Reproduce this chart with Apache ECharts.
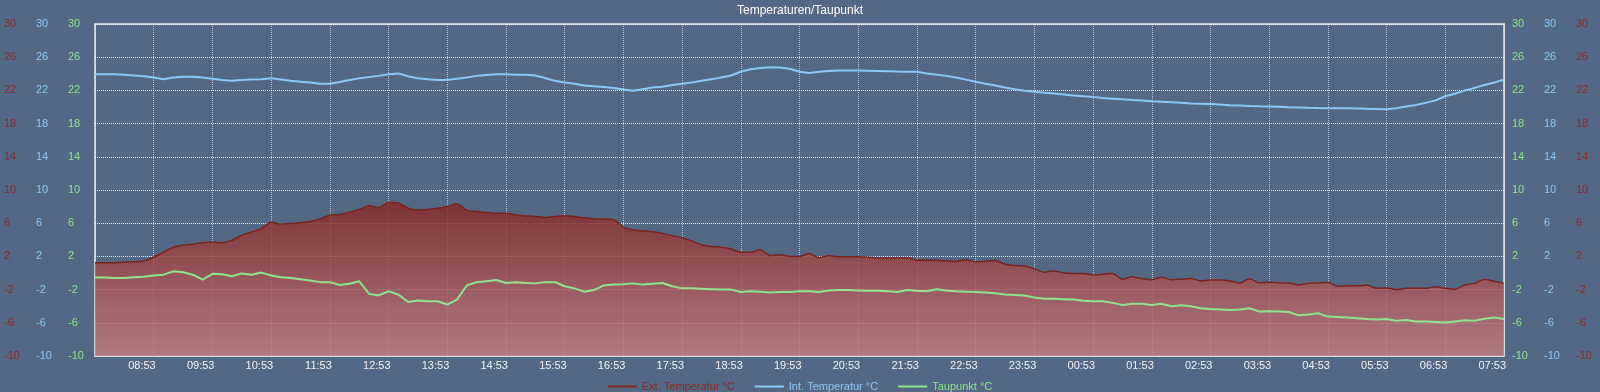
<!DOCTYPE html>
<html>
<head>
<meta charset="utf-8">
<script src="https://cdn.jsdelivr.net/npm/echarts@6/dist/echarts.min.js"></script>
<style>
  html, body { margin: 0; padding: 0; background: #536884; }
  #chart { width: 1600px; height: 392px; }
</style>
</head>
<body>
<div id="chart"></div>
<script>
// ---- data (10-minute samples starting at 07:53) ----
const startTime = '07:53';
const stepMinutes = 10;

const xTickLabels = ['08:53','09:53','10:53','11:53','12:53','13:53','14:53','15:53','16:53','17:53','18:53','19:53',
  '20:53','21:53','22:53','23:53','00:53','01:53','02:53','03:53','04:53','05:53','06:53','07:53'];

const yTicks = [-10, -6, -2, 2, 6, 10, 14, 18, 22, 26, 30];

const extTemp = [
  1.25, 1.25, 1.25, 1.3, 1.35, 1.45, 1.9, 2.5, 3.1, 3.35,
  3.45, 3.65, 3.7, 3.65, 3.95, 4.55, 4.95, 5.35, 6.1, 5.9,
  5.95, 6.05, 6.2, 6.5, 6.95, 7.05, 7.35, 7.65, 8.1, 7.85,
  8.5, 8.45, 7.8, 7.6, 7.65, 7.8, 8.0, 8.35, 7.55, 7.4,
  7.3, 7.2, 7.2, 7.0, 6.9, 6.8, 6.7, 6.8, 6.9, 6.8,
  6.65, 6.55, 6.5, 6.45, 5.5, 5.2, 5.05, 5.0, 4.75, 4.5,
  4.25, 3.85, 3.4, 3.2, 3.1, 2.9, 2.5, 2.5, 2.8, 2.1,
  2.2, 2.0, 2.0, 2.35, 1.85, 2.1, 1.95, 1.95, 1.95, 1.9,
  1.8, 1.8, 1.8, 1.85, 1.55, 1.55, 1.55, 1.45, 1.4, 1.6,
  1.35, 1.4, 1.5, 1.05, 0.9, 0.85, 0.5, 0.1, 0.25, 0.0,
  -0.05, -0.05, -0.25, -0.15, -0.05, -0.75, -0.45, -0.7, -0.8, -0.5,
  -0.8, -0.75, -0.65, -0.95, -0.85, -0.85, -0.95, -1.2, -0.7, -1.2,
  -1.1, -1.2, -1.2, -1.45, -1.25, -1.2, -1.15, -1.6, -1.55, -1.55,
  -1.45, -1.85, -1.8, -2.0, -1.85, -1.85, -1.85, -1.65, -1.85, -1.95,
  -1.45, -1.25, -0.75, -1.0, -1.25
];

const intTemp = [
  23.95, 23.95, 23.95, 23.9, 23.8, 23.7, 23.55, 23.35, 23.55, 23.65,
  23.65, 23.55, 23.4, 23.25, 23.15, 23.25, 23.3, 23.35, 23.45, 23.3,
  23.15, 23.05, 22.95, 22.8, 22.8, 23.0, 23.25, 23.45, 23.6, 23.75,
  23.95, 24.05, 23.7, 23.45, 23.35, 23.25, 23.25, 23.4, 23.55, 23.75,
  23.85, 23.95, 23.95, 23.9, 23.9, 23.8, 23.5, 23.15, 22.95, 22.8,
  22.6, 22.5, 22.4, 22.3, 22.1, 21.95, 22.15, 22.35, 22.45, 22.65,
  22.8, 22.95, 23.15, 23.35, 23.55, 23.8, 24.25, 24.55, 24.7, 24.8,
  24.75, 24.6, 24.25, 24.1, 24.25, 24.35, 24.4, 24.4, 24.4, 24.38,
  24.35, 24.32, 24.28, 24.25, 24.25, 24.05, 23.9, 23.75, 23.55, 23.3,
  23.05, 22.8, 22.6, 22.35, 22.15, 21.97, 21.85, 21.72, 21.62, 21.5,
  21.38, 21.3, 21.22, 21.08, 21.0, 20.92, 20.85, 20.78, 20.7, 20.63,
  20.57, 20.5, 20.43, 20.4, 20.35, 20.3, 20.22, 20.17, 20.12, 20.08,
  20.05, 20.02, 19.98, 19.95, 19.9, 19.87, 19.85, 19.85, 19.85, 19.82,
  19.78, 19.76, 19.72, 19.85, 20.05, 20.25, 20.5, 20.8, 21.3, 21.6,
  22.0, 22.3, 22.65, 22.95, 23.3
];

const dewPoint = [
  -0.55, -0.55, -0.6, -0.6, -0.5, -0.45, -0.3, -0.2, 0.2, 0.1,
  -0.2, -0.8, -0.1, -0.15, -0.4, -0.05, -0.2, 0.05, -0.3, -0.5,
  -0.6, -0.75, -0.9, -1.1, -1.1, -1.45, -1.3, -1.0, -2.5, -2.7,
  -2.2, -2.6, -3.5, -3.3, -3.4, -3.4, -3.8, -3.2, -1.5, -1.1,
  -1.0, -0.85, -1.2, -1.1, -1.2, -1.25, -1.1, -1.1, -1.6, -1.85,
  -2.25, -2.05, -1.5, -1.4, -1.35, -1.25, -1.4, -1.3, -1.2, -1.6,
  -1.85, -1.85, -1.9, -1.95, -2.0, -2.0, -2.3, -2.2, -2.25, -2.35,
  -2.3, -2.3, -2.2, -2.2, -2.3, -2.1, -2.05, -2.05, -2.1, -2.15,
  -2.15, -2.2, -2.3, -2.05, -2.15, -2.2, -1.95, -2.1, -2.2, -2.25,
  -2.3, -2.35, -2.45, -2.6, -2.65, -2.7, -2.95, -3.1, -3.1, -3.15,
  -3.2, -3.35, -3.4, -3.4, -3.6, -3.85, -3.7, -3.7, -3.85, -3.7,
  -4.0, -3.9, -4.0, -4.25, -4.35, -4.4, -4.45, -4.4, -4.25, -4.65,
  -4.6, -4.65, -4.7, -5.1, -5.0, -4.85, -5.25, -5.3, -5.35, -5.45,
  -5.55, -5.6, -5.55, -5.75, -5.65, -5.85, -5.85, -5.9, -5.95, -5.85,
  -5.7, -5.75, -5.5, -5.35, -5.55
];

const seriesNames = ['Ext. Temperatur °C', 'Int. Temperatur °C', 'Taupunkt °C'];

// ---- styling ----
const FONT = '"Liberation Sans", Arial, Helvetica, sans-serif';
const RED = '#8c2a23';
const BLUE = '#8cc8f5';
const GREEN = '#8fe58f';

function toPairs(arr) { return arr.map((v, k) => [k * stepMinutes, v]); }

function yAxis(pos, offset, color, showSplit) {
  return {
    type: 'value', min: -10, max: 30, position: pos, offset: offset,
    axisLine: { show: false },
    axisTick: { show: false, customValues: yTicks },
    axisLabel: { customValues: yTicks, color: color, fontSize: 11, fontFamily: FONT, align: 'left', margin: 0 },
    splitLine: { show: showSplit, lineStyle: { color: 'rgba(255,255,255,0.85)', type: 'dotted', width: 1 } }
  };
}

const chart = echarts.init(document.getElementById('chart'), null, { renderer: 'canvas' });
chart.setOption({
  backgroundColor: '#536884',
  animation: false,
  title: {
    text: 'Temperaturen/Taupunkt', left: 'center', top: 0,
    textStyle: { color: '#ffffff', fontSize: 12, fontWeight: 'normal', fontFamily: FONT }
  },
  legend: {
    top: 376, left: 'center', icon: 'rect', itemWidth: 29, itemHeight: 2, itemGap: 20,
    textStyle: { fontSize: 11, fontFamily: FONT },
    data: [
      { name: seriesNames[0], textStyle: { color: RED } },
      { name: seriesNames[1], textStyle: { color: BLUE } },
      { name: seriesNames[2], textStyle: { color: GREEN } }
    ]
  },
  grid: { left: 95, right: 96, top: 24, bottom: 36, show: true, borderColor: '#c3cad6', borderWidth: 2, backgroundColor: 'transparent' },
  xAxis: {
    type: 'value', min: 0, max: 1440, interval: 60,
    axisLine: { show: false }, axisTick: { show: false },
    axisLabel: {
      color: '#f2f4f8', fontSize: 11, fontFamily: FONT, margin: 4, align: 'right', padding: [0, -2, 0, 0],
      formatter: function (v) { return v === 0 ? '' : (xTickLabels[Math.round(v / 60) - 1] || ''); }
    },
    splitLine: { show: true, lineStyle: { color: 'rgba(255,255,255,0.6)', type: 'dotted', width: 1 } }
  },
  yAxis: [
    yAxis('left', 91, RED, true),
    yAxis('left', 59, BLUE, false),
    yAxis('left', 27, GREEN, false),
    yAxis('right', 8, GREEN, false),
    yAxis('right', 40, BLUE, false),
    yAxis('right', 72, RED, false)
  ],
  series: [
    {
      name: seriesNames[0], type: 'line', yAxisIndex: 0, data: toPairs(extTemp),
      showSymbol: false, symbol: 'none', smooth: 0.2,
      color: '#7d2620',
      lineStyle: { color: '#7a231d', width: 1.5 },
      areaStyle: {
        origin: 'start', opacity: 1,
        color: new echarts.graphic.LinearGradient(0, 0, 0, 1, [
          { offset: 0, color: 'rgba(136,40,36,0.82)' },
          { offset: 1, color: 'rgba(196,126,128,0.82)' }
        ])
      },
      z: 2
    },
    {
      name: seriesNames[1], type: 'line', yAxisIndex: 0, data: toPairs(intTemp),
      showSymbol: false, symbol: 'none', color: BLUE,
      lineStyle: { color: BLUE, width: 2 }, z: 3
    },
    {
      name: seriesNames[2], type: 'line', yAxisIndex: 0, data: toPairs(dewPoint),
      showSymbol: false, symbol: 'none', color: GREEN,
      lineStyle: { color: GREEN, width: 2 }, z: 4
    }
  ]
});
</script>
</body>
</html>
